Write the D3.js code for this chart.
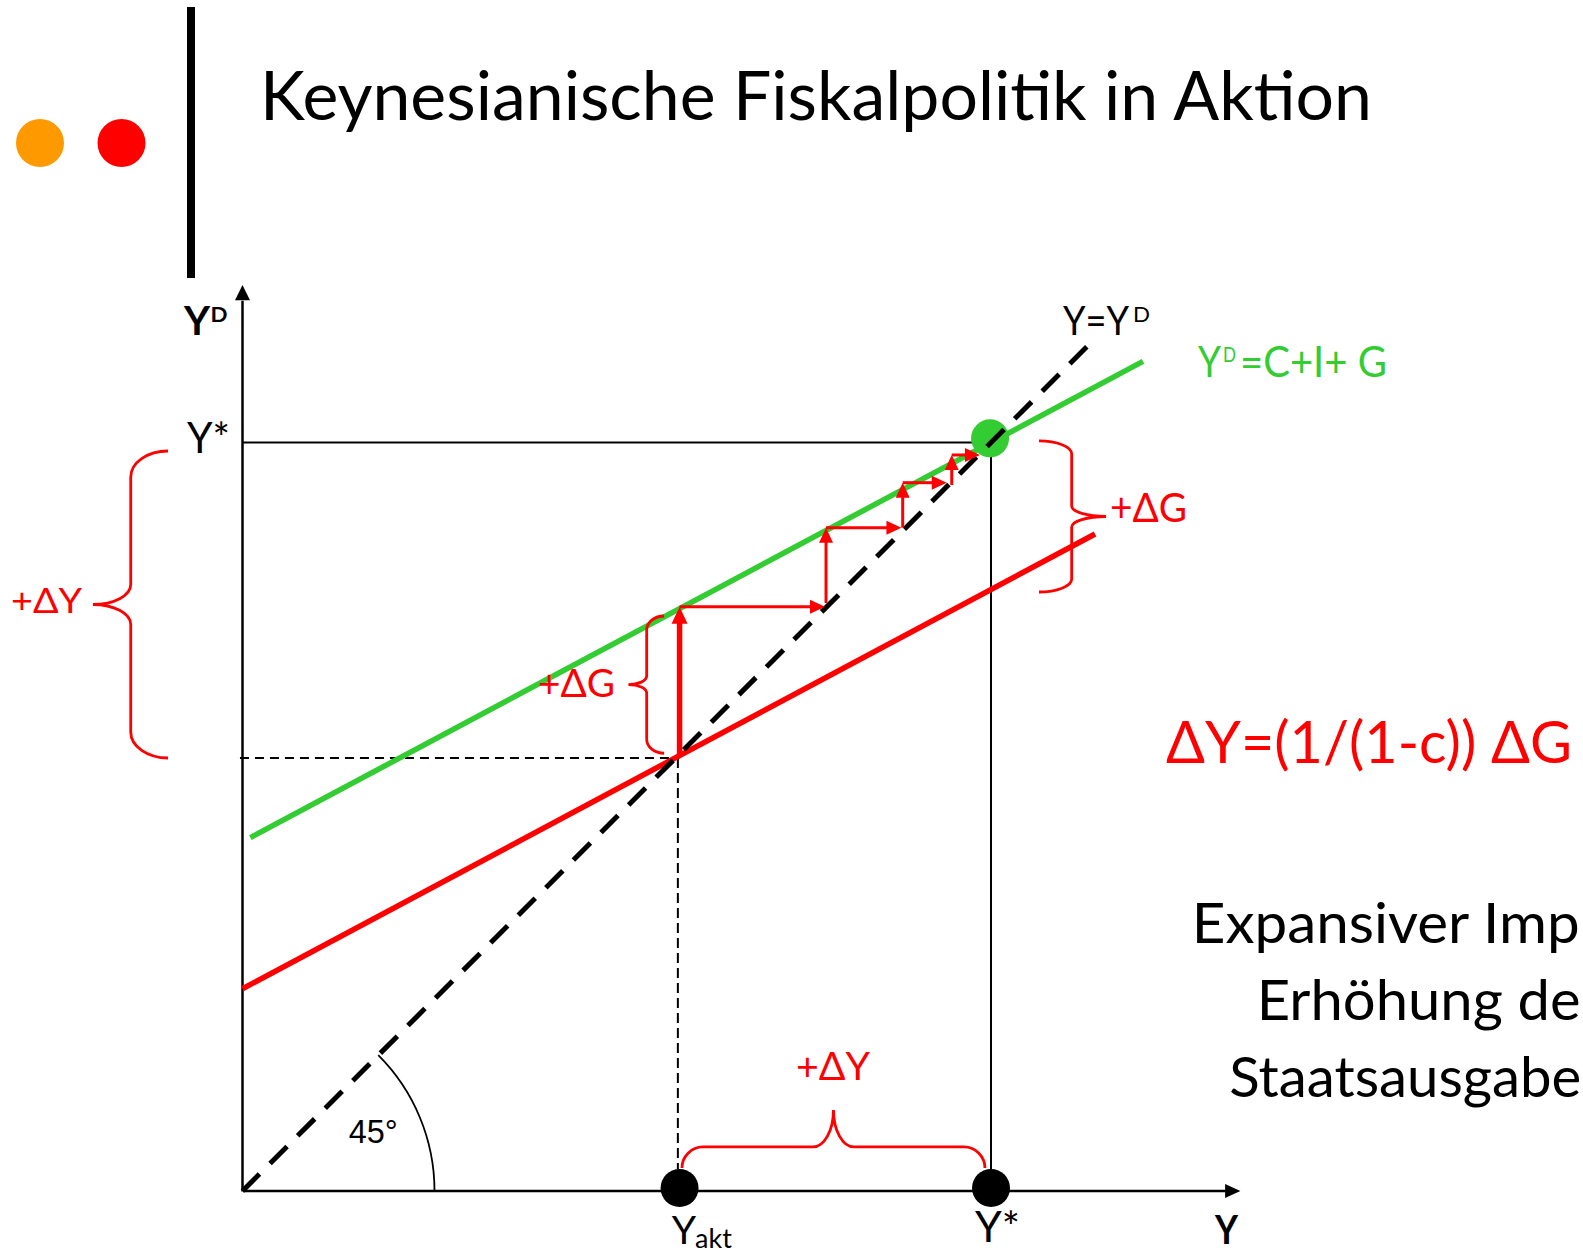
<!DOCTYPE html>
<html><head><meta charset="utf-8">
<script src="https://cdn.jsdelivr.net/npm/d3@7"></script>
<style>html,body{margin:0;padding:0;background:#fff;overflow:hidden}</style>
</head><body>
<svg id="c" width="1583" height="1256" xmlns="http://www.w3.org/2000/svg"></svg>
<script>
// ---------- data (diagram units 0..100) ----------
const titleText = "Keynesianische Fiskalpolitik in Aktion";
const formulaText = "ΔY=(1/(1-c)) ΔG";
const sideLines = ["Expansiver Imp", "Erhöhung de", "Staatsausgabe"];   // as visible (cut by the slide edge)
const diagonal = [[0, 0], [99.9, 99.9]];            // Y = Y^D (45°)
const demandOld = [[0, 23.8], [100.3, 77.3]];       // red, before ΔG
const demandNew = [[0.93, 41.58], [105.94, 97.6]];  // green, Y^D = C+I+G
const incomeLevels = [51.42, 88.06];                // Y_akt, Y*
const aktLevel = 50.94;                             // dashed guide level of Y_akt
const equilibriumMark = [87.95, 88.55];
// multiplier process (cobweb)
const stepX    = [51.42, 68.65, 77.67, 83.44];
const stepBase = [51.26, 69.18, 78.04, 83.06];
const stepTop  = [68.74, 78.04, 83.33, 86.59];
const stepEnd  = [68.53, 77.52, 82.85, 86.76];
const xAxisEnd = 115.6, xAxisTip = 117.4;
const yAxisEnd = 104.8, yAxisTip = 106.6;

// ---------- setup ----------
const svg = d3.select("#c");
const x = d3.scaleLinear().domain([0, 100]).range([242.5, 1092.5]);
const y = d3.scaleLinear().domain([0, 100]).range([1191, 341]);
const RED = "#ff0000", GREEN = "#33cc33", FONT = "Lato, 'Open Sans', sans-serif";
const line = d3.line().x(d => x(d[0])).y(d => y(d[1]));

function txt(s, tx, ty, size, len, opt = {}) {
  const t = svg.append("text").attr("x", tx).attr("y", ty)
    .attr("font-family", opt.family || FONT).attr("font-size", size)
    .attr("font-weight", opt.bold ? 700 : 400)
    .attr("fill", opt.color || "#000").text(s);
  if (len) t.attr("textLength", len).attr("lengthAdjust", "spacingAndGlyphs");
  return t;
}

// ---------- header ----------
svg.append("circle").attr("cx", 40).attr("cy", 143).attr("r", 24).attr("fill", "#ff9900");
svg.append("circle").attr("cx", 121.5).attr("cy", 143).attr("r", 24).attr("fill", "#ff0000");
svg.append("rect").attr("x", 187).attr("y", 7).attr("width", 8).attr("height", 271).attr("fill", "#000");
txt(titleText, 260, 119.5, 67, 1112);

// ---------- axes ----------
const xa = d3.scaleLinear().domain([0, xAxisEnd]).range([x(0), x(xAxisEnd)]);
const ya = d3.scaleLinear().domain([0, yAxisEnd]).range([y(0), y(yAxisEnd)]);
svg.append("g").attr("transform", `translate(0,${y(0) - 0.5})`)
  .call(d3.axisBottom(xa).tickValues([]).tickSizeOuter(0))
  .call(g => g.select(".domain").attr("stroke", "#000").attr("stroke-width", 2.5));
svg.append("g").attr("transform", `translate(${x(0) - 0.5},0)`)
  .call(d3.axisLeft(ya).tickValues([]).tickSizeOuter(0))
  .call(g => g.select(".domain").attr("stroke", "#000").attr("stroke-width", 2.5));
svg.append("path").attr("fill", "#000")
  .attr("d", `M${x(xAxisTip)},${y(0)} L${x(xAxisEnd)},${y(0) - 7} L${x(xAxisEnd)},${y(0) + 7}Z`);
svg.append("path").attr("fill", "#000")
  .attr("d", `M${x(0)},${y(yAxisTip)} L${x(0) - 7.5},${y(yAxisEnd)} L${x(0) + 7.5},${y(yAxisEnd)}Z`);

// ---------- guide lines ----------
const [yAkt, yStar] = incomeLevels;
svg.append("path").attr("d", line([[0, yStar], [yStar, yStar], [yStar, 0]]))
  .attr("fill", "none").attr("stroke", "#000").attr("stroke-width", 2);
svg.append("path").attr("d", line([[-0.3, aktLevel], [yAkt, aktLevel]]))
  .attr("fill", "none").attr("stroke", "#000").attr("stroke-width", 2).attr("stroke-dasharray", "9,6");
svg.append("path").attr("d", line([[yAkt - 0.2, aktLevel], [yAkt - 0.2, 2.6]]))
  .attr("fill", "none").attr("stroke", "#000").attr("stroke-width", 2).attr("stroke-dasharray", "10,5");

// 45° arc
const R = 192;
svg.append("path").attr("fill", "none").attr("stroke", "#000").attr("stroke-width", 1.8)
  .attr("d", `M${x(0) + R},${y(0)} A${R},${R} 0 0 0 ${x(0) + R * Math.SQRT1_2},${y(0) - R * Math.SQRT1_2}`);

// ---------- demand lines ----------
svg.append("path").attr("d", line(demandOld)).attr("fill", "none").attr("stroke", RED).attr("stroke-width", 5.5);
svg.append("path").attr("d", line(demandNew)).attr("fill", "none").attr("stroke", GREEN).attr("stroke-width", 5.5);
svg.append("circle").attr("cx", x(equilibriumMark[0])).attr("cy", y(equilibriumMark[1])).attr("r", 19).attr("fill", GREEN);
svg.append("path").attr("d", line(diagonal)).attr("fill", "none").attr("stroke", "#000")
  .attr("stroke-width", 5).attr("stroke-dasharray", "24,15");

// ---------- multiplier arrows ----------
function arrow(x0, y0, x1, y1, w, hl, hw) {
  const dx = x1 - x0, dy = y1 - y0, L = Math.hypot(dx, dy), ux = dx / L, uy = dy / L;
  const bx = x1 - ux * hl, by = y1 - uy * hl;
  svg.append("line").attr("x1", x0).attr("y1", y0).attr("x2", x1 - ux * (hl - 2)).attr("y2", y1 - uy * (hl - 2))
    .attr("stroke", RED).attr("stroke-width", w);
  svg.append("path").attr("fill", RED)
    .attr("d", `M${x1},${y1} L${bx - uy * hw / 2},${by + ux * hw / 2} L${bx + uy * hw / 2},${by - ux * hw / 2}Z`);
}
stepX.forEach((sx, i) => {
  const big = i === 0;
  arrow(x(sx), y(stepBase[i]), x(sx), y(stepTop[i]), big ? 5.5 : 3, big ? 17 : 15, big ? 16 : 14);
  arrow(x(sx), y(stepTop[i]), x(stepEnd[i]), y(stepTop[i]), 3, 15, 14);
});

// ---------- points on the x axis ----------
incomeLevels.forEach(v => svg.append("circle").attr("cx", x(v)).attr("cy", y(0) - 3).attr("r", 19).attr("fill", "#000"));

// ---------- braces ----------
function brace(a0, a1, pEnd, pSpine, pCusp, rE, rC, vertical) {
  const P = (a, p) => vertical ? `${p},${a}` : `${a},${p}`;
  const k = 0.552, am = (a0 + a1) / 2, s = Math.sign(a1 - a0);
  const d = `M${P(a0, pEnd)}` +
    ` C${P(a0, pEnd + k * (pSpine - pEnd))} ${P(a0 + s * rE * (1 - k), pSpine)} ${P(a0 + s * rE, pSpine)}` +
    ` L${P(am - s * rC, pSpine)}` +
    ` C${P(am - s * rC * (1 - k), pSpine)} ${P(am, pCusp + k * (pSpine - pCusp))} ${P(am, pCusp)}` +
    ` C${P(am, pCusp + k * (pSpine - pCusp))} ${P(am + s * rC * (1 - k), pSpine)} ${P(am + s * rC, pSpine)}` +
    ` L${P(a1 - s * rE, pSpine)}` +
    ` C${P(a1 - s * rE * (1 - k), pSpine)} ${P(a1, pEnd + k * (pSpine - pEnd))} ${P(a1, pEnd)}`;
  svg.append("path").attr("d", d).attr("fill", "none").attr("stroke", RED).attr("stroke-width", 2.8);
}
brace(y(87.06), y(50.94), x(-8.76), x(-13.15), x(-17.6), 26, 20, true);   // left ΔY
brace(y(88.24), y(70.47), x(93.7), x(97.55), x(101.6), 13, 10.5, true);   // right ΔG
brace(y(67.65), y(51.5), x(49.6), x(47.55), x(45.4), 14, 8.5, true);      // middle ΔG
brace(x(51.7), x(87.35), y(2.7), y(5.18), y(9.53), 21, 20.5, false);      // bottom ΔY

// ---------- labels ----------
txt("Y", 184, 335, 40, 26, { bold: true });
txt("D", 210.5, 322, 21, 17, { bold: true });
txt("Y*", 187, 453, 42, 43);
txt("+ΔY", 11, 613, 35, 71, { color: RED });
txt("Y=Y", 1063, 335, 40, 66);
txt("D", 1133, 322, 22, 17);
txt("Y", 1198, 377, 42, 23, { color: GREEN });
txt("D", 1223, 362, 21, 13, { color: GREEN });
txt("=C+I+ G", 1240, 377, 42, 147, { color: GREEN });
txt("+ΔG", 1110, 522, 40, 77, { color: RED });
txt("+ΔG", 538, 697, 39, 77, { color: RED });
txt(formulaText, 1166, 763.3, 58, 406, { color: RED });
txt("45°", 348.7, 1143.3, 34, 49, { family: "'Liberation Sans', Arial, sans-serif" });
txt("+ΔY", 796, 1080, 39, 74, { color: RED });
// Y_akt as one text with a subscript
const yakt = svg.append("text").attr("x", 671.7).attr("y", 1244).attr("font-family", FONT).attr("font-size", 39).attr("fill", "#000");
yakt.append("tspan").text("Y");
yakt.append("tspan").attr("font-size", 27).attr("dy", 4).attr("dx", -1).text("akt");
txt("Y*", 975, 1242, 43, 45);
txt("Y", 1215, 1244, 40, 23, { bold: true });

const sideX = [1191.7, 1256.7, 1229.3], sideY = [943.3, 1020, 1096.7], sideW = [388, 324, 352];
sideLines.forEach((s, i) => txt(s, sideX[i], sideY[i], 56, sideW[i]));
</script>
</body></html>
